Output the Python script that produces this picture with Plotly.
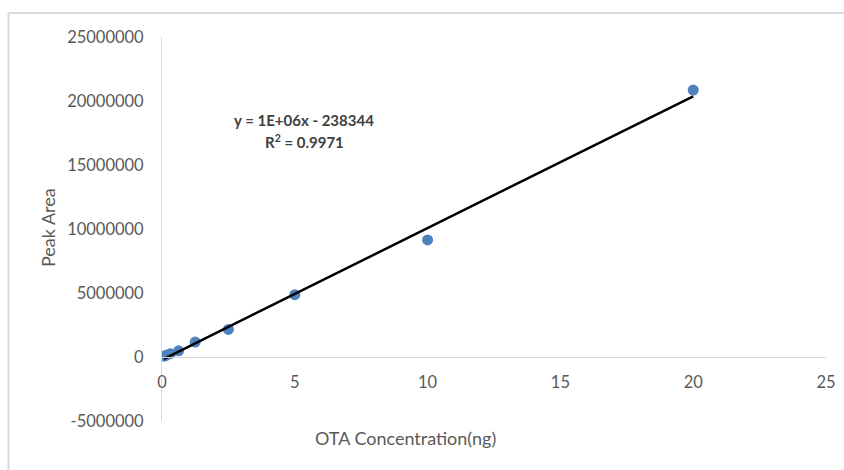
import numpy as np
import plotly.graph_objects as go

conc_ng = [0.078, 0.156, 0.3125, 0.625, 1.25, 2.5, 5, 10, 20]
peak_area = [60000, 130000, 260000, 480000, 1170000, 2150000, 4870000, 9150000, 20850000]
x_ticks = [0, 5, 10, 15, 20, 25]
y_ticks = [-5000000, 0, 5000000, 10000000, 15000000, 20000000, 25000000]
eq_text = "y = 1E+06x - 238344"
r2_text = "R<sup>2</sup> = 0.9971"

slope, intercept = np.polyfit(conc_ng, peak_area, 1)
x_fit = [min(conc_ng), max(conc_ng)]
y_fit = [slope * v + intercept for v in x_fit]

W, H = 844, 470
L, R, T, B = 162, 18, 37, 49
pw, ph = W - L - R, H - T - B
FONT = "Lato"
GRAY = "#595959"
LINE = "#d9d9d9"

fig = go.Figure()
fig.add_trace(go.Scatter(x=conc_ng, y=peak_area, mode="markers",
                         marker=dict(size=11, color="#4f81bd"), showlegend=False))
fig.add_trace(go.Scatter(x=x_fit, y=y_fit, mode="lines",
                         line=dict(color="black", width=2.5), showlegend=False))

zero_pos = (0 - (-5000000)) / 30000000

fig.update_layout(
    width=W, height=H,
    margin=dict(l=L, r=R, t=T, b=B, autoexpand=False),
    paper_bgcolor="white", plot_bgcolor="white",
    font=dict(family=FONT, color=GRAY, size=16),
    xaxis=dict(range=[0, 25], tickvals=x_ticks, showgrid=False, zeroline=False,
               showline=True, linecolor=LINE, linewidth=1, anchor="free",
               position=zero_pos, ticks="", ticklabelstandoff=10, automargin=False,
               tickfont=dict(family=FONT, size=16.5, color=GRAY)),
    yaxis=dict(range=[-5000000, 25000000], tickvals=y_ticks,
               ticktext=[str(v) for v in y_ticks], showgrid=False, zeroline=False,
               showline=True, linecolor=LINE, linewidth=1, ticks="",
               ticklabelstandoff=14, automargin=False,
               tickfont=dict(family=FONT, size=16.5, color=GRAY)),
    annotations=[
        dict(x=5.35, y=18500000, xref="x", yref="y", text="<b>" + eq_text + "</b>",
             showarrow=False, xanchor="center", yanchor="middle",
             font=dict(family=FONT, size=15, color="#404040")),
        dict(x=5.35, y=16800000, xref="x", yref="y", text="<b>" + r2_text + "</b>",
             showarrow=False, xanchor="center", yanchor="middle",
             font=dict(family=FONT, size=15, color="#404040")),
        dict(x=(405 - L) / pw, y=(H - B - 438) / ph, xref="paper", yref="paper",
             text="OTA Concentration(ng)", showarrow=False,
             xanchor="center", yanchor="middle",
             font=dict(family=FONT, size=18, color=GRAY)),
        dict(x=(48 - L) / pw, y=(H - B - 228) / ph, xref="paper", yref="paper",
             text="Peak Area", showarrow=False, textangle=-90,
             xanchor="center", yanchor="middle",
             font=dict(family=FONT, size=18, color=GRAY)),
    ],
    shapes=[
        dict(type="line", xref="paper", yref="paper",
             x0=(8.5 - L) / pw, x1=(8.5 - L) / pw,
             y0=(H - B - 13) / ph, y1=(H - B - 475) / ph,
             line=dict(color=LINE, width=2)),
        dict(type="line", xref="paper", yref="paper",
             x0=(8.5 - L) / pw, x1=(850 - L) / pw,
             y0=(H - B - 13) / ph, y1=(H - B - 13) / ph,
             line=dict(color=LINE, width=2)),
    ],
)

fig.write_html("out.html", config={"displayModeBar": False},
               post_script="document.body.style.margin='0';document.body.style.padding='0';")
